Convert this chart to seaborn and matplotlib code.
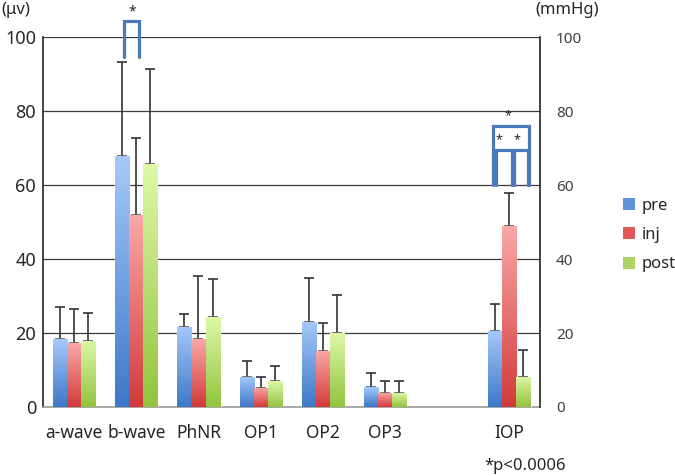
import numpy as np
import pandas as pd
import matplotlib
matplotlib.use("Agg")
import matplotlib.pyplot as plt
import seaborn as sns
from matplotlib.colors import LinearSegmentedColormap
from matplotlib.patches import Patch

# ---- data ----
measures = ["a-wave", "b-wave", "PhNR", "OP1", "OP2", "OP3", "IOP"]
order = ["a-wave", "b-wave", "PhNR", "OP1", "OP2", "OP3", " ", "IOP"]
groups = ["pre", "inj", "post"]
pre = [18.3, 67.8, 21.7, 8.2, 23.0, 5.4, 20.6]
inj = [17.2, 51.9, 18.3, 5.2, 15.2, 3.9, 49.0]
post = [17.9, 65.6, 24.2, 7.0, 20.0, 3.9, 8.2]
pre_sd = [8.6, 25.4, 3.4, 4.3, 11.9, 3.7, 7.2]
inj_sd = [9.4, 20.9, 17.2, 3.0, 7.4, 3.0, 8.9]
post_sd = [7.6, 25.9, 10.5, 4.1, 10.4, 3.0, 7.2]
left_ticks = [0, 20, 40, 60, 80, 100]
right_ticks = [0, 20, 40, 60, 80, 100]

means = {"pre": pre, "inj": inj, "post": post}
sds = {"pre": pre_sd, "inj": inj_sd, "post": post_sd}
rows = []
for g in groups:
    for m, v, s in zip(measures, means[g], sds[g]):
        rows.append({"measure": m, "group": g, "value": v, "sd": s})
df = pd.DataFrame(rows)

mid_colors = {"pre": "#5F92DA", "inj": "#E05858", "post": "#ADD565"}
grad = {
    "pre": ("#3C78C8", "#A6C9FA"),
    "inj": ("#D23A3A", "#FAA8A8"),
    "post": ("#93C33E", "#DDF8A8"),
}

sns.set_style("white")
plt.rcParams["font.family"] = ["Noto Sans", "DejaVu Sans"]

fig = plt.figure(figsize=(6.75, 4.76), dpi=100)
ax = fig.add_axes([0.0637, 0.145, 0.737, 0.777])

sns.barplot(data=df, x="measure", y="value", hue="group", order=order,
            hue_order=groups, palette=mid_colors, width=0.68, errorbar=None,
            saturation=1, legend=False, ax=ax, zorder=3)

ax.set_xlim(-0.5, len(order) - 0.5)
ax.set_ylim(0, 100)

# gradient fill + error bars
grad_img = np.linspace(0, 1, 256).reshape(-1, 1)
bar_containers = list(ax.containers)[:len(groups)]
for gi, cont in enumerate(bar_containers):
    g = groups[gi]
    cmap = LinearSegmentedColormap.from_list(g, grad[g])
    xs, ys, es = [], [], []
    for bar in cont:
        x0 = bar.get_x()
        w = bar.get_width()
        h = bar.get_height()
        if np.isnan(h):
            continue
        cx = x0 + w / 2
        name = order[int(round(cx))]
        row = df[(df.measure == name) & (df.group == g)].iloc[0]
        im = ax.imshow(grad_img, cmap=cmap, origin="lower", aspect="auto",
                       extent=[x0, x0 + w, 0, h], zorder=3.5)
        im.set_clip_path(bar)
        xs.append(cx)
        ys.append(row.value)
        es.append(row.sd)
    ax.errorbar(xs, ys, yerr=[np.zeros(len(es)), es], fmt="none",
                ecolor="#333333", elinewidth=1.2, capsize=3.5, capthick=1.2,
                zorder=2)

ax.set_xlim(-0.5, len(order) - 0.5)
ax.set_ylim(0, 100)
ax.set_aspect("auto")

# grid / spines
ax.set_yticks(left_ticks)
ax.set_yticklabels([str(t) for t in left_ticks], fontsize=13)
for t in left_ticks[1:]:
    ax.axhline(t, color="#3a3a3a", lw=0.9, zorder=1)
ax.tick_params(axis="y", length=0, pad=5)
ax.set_xticks(range(len(order)))
ax.set_xticklabels(order, fontsize=12.5)
ax.tick_params(axis="x", which="major", length=0, pad=12)
ax.set_xticks(np.arange(-0.5, len(order), 1.0), minor=True)
ax.tick_params(axis="x", which="minor", length=6, color="#9a9a9a", width=1)
ax.set_xlabel("")
ax.set_ylabel("")
ax.spines["top"].set_visible(False)
ax.spines["left"].set_color("#222222")
ax.spines["left"].set_linewidth(1.2)
ax.spines["bottom"].set_color("#9a9a9a")
ax.spines["bottom"].set_linewidth(1.2)
ax.spines["right"].set_visible(False)

ax2 = ax.twinx()
ax2.set_ylim(0, 100)
ax2.set_yticks(right_ticks)
ax2.set_yticklabels([str(t) for t in right_ticks], fontsize=11, color="#404040")
ax2.tick_params(axis="y", length=0, pad=11)
ax2.spines["top"].set_visible(False)
ax2.spines["left"].set_visible(False)
ax2.spines["bottom"].set_visible(False)
ax2.spines["right"].set_color("#222222")
ax2.spines["right"].set_linewidth(1.2)

# significance brackets
bc = "#4A78BC"
kw = dict(color=bc, lw=2.3, clip_on=False, solid_joinstyle="miter", zorder=5)
ax.plot([0.81, 0.81, 1.05, 1.05], [94.5, 104.4, 104.4, 94.5], **kw)
ax.text(0.93, 104.9, "*", ha="center", va="bottom", fontsize=10)
ax.plot([6.73, 6.73, 7.32, 7.32], [60, 76, 76, 60], **kw)
ax.plot([6.79, 6.79, 7.035, 7.035], [60, 69.6, 69.6, 60], **kw)
ax.plot([7.07, 7.07, 7.30, 7.30], [60, 69.6, 69.6, 60], **kw)
ax.text(6.98, 77.0, "*", ha="center", va="bottom", fontsize=9)
ax.text(6.83, 70.5, "*", ha="center", va="bottom", fontsize=9)
ax.text(7.12, 70.5, "*", ha="center", va="bottom", fontsize=9)

# legend
handles = [Patch(facecolor=mid_colors[g], edgecolor="none") for g in groups]
fig.legend(handles, groups, loc="center left", bbox_to_anchor=(0.913, 0.506),
           frameon=False, fontsize=12, handlelength=0.75, handleheight=0.75,
           handletextpad=0.4, labelspacing=0.8, borderaxespad=0)

# text
fig.text(0.002, 0.978, "(μv)", fontsize=12, ha="left", va="center")
fig.text(0.793, 0.978, "(mmHg)", fontsize=12, ha="left", va="center")
fig.text(0.718, 0.021, "*p<0.0006", fontsize=12, ha="left", va="center")

fig.savefig("out.png", dpi=100)
